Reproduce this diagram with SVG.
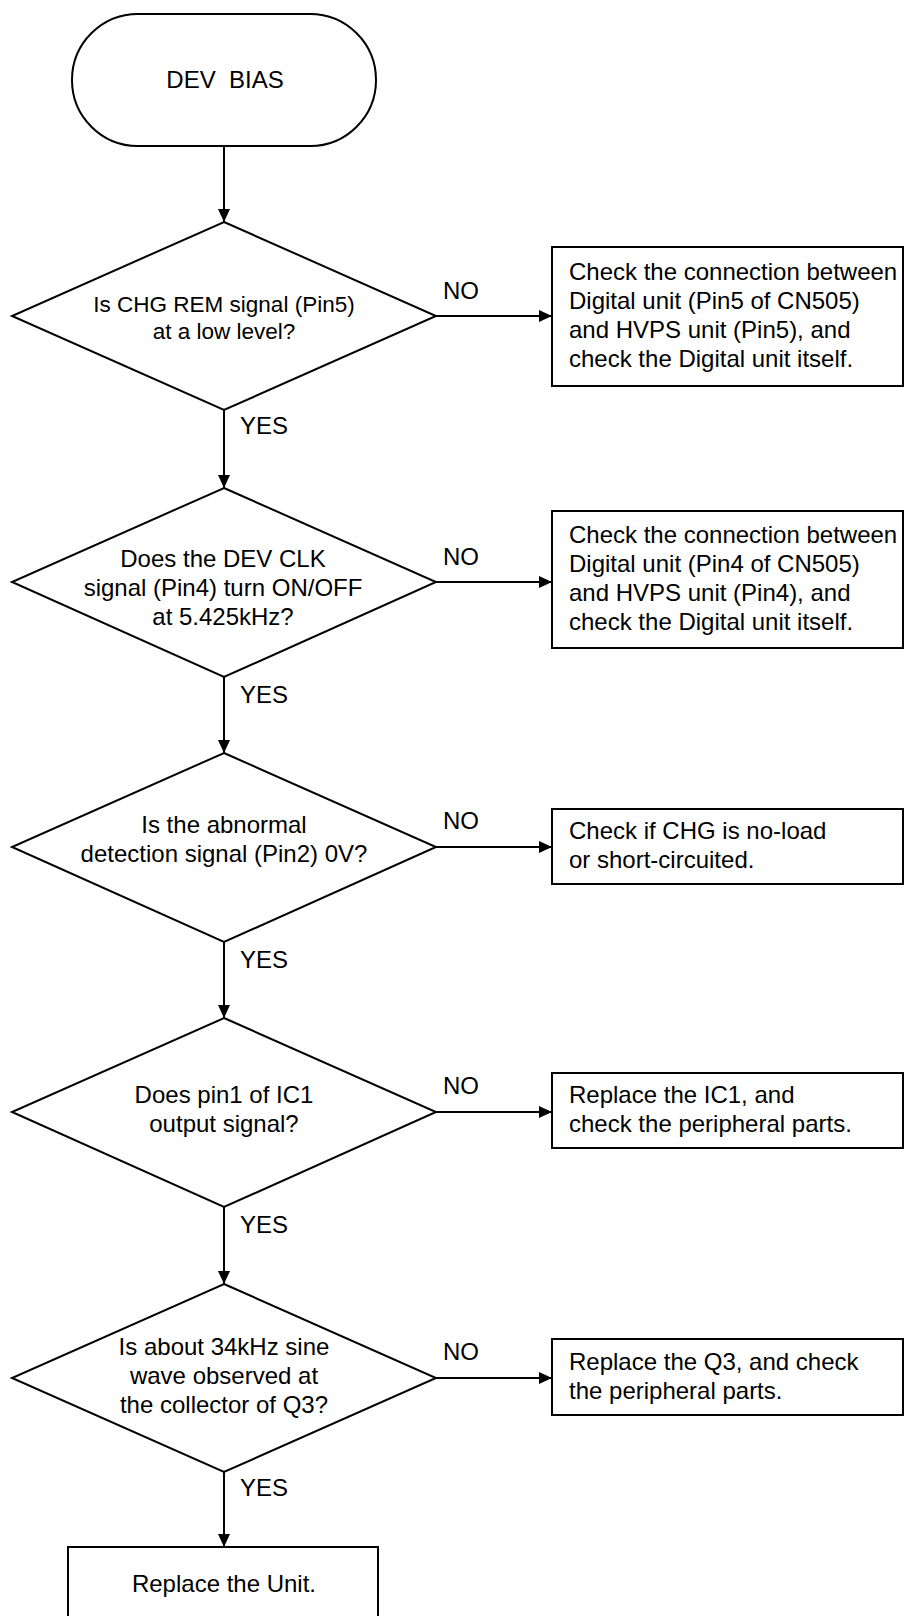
<svg xmlns="http://www.w3.org/2000/svg" width="904" height="1616" viewBox="0 0 904 1616">
<style>
.s{fill:#fff;stroke:#000;stroke-width:2}
.c{fill:none;stroke:#000;stroke-width:2}
text{font-family:"Liberation Sans",Arial,Helvetica,sans-serif;font-size:24px;fill:#000}
.m{text-anchor:middle}
.d1{font-size:22.5px}
</style>
<defs>
<marker id="ah" markerUnits="userSpaceOnUse" markerWidth="14" markerHeight="12" refX="13" refY="6" orient="auto">
<path d="M0,0 L13,6 L0,12 Z" fill="#000"/>
</marker>
</defs>
<rect width="904" height="1616" fill="#fff"/>
<g id="connectors">
<line class="c" x1="224" y1="146" x2="224" y2="222" marker-end="url(#ah)"/>
<line class="c" x1="224" y1="410" x2="224" y2="488" marker-end="url(#ah)"/>
<line class="c" x1="224" y1="677" x2="224" y2="753" marker-end="url(#ah)"/>
<line class="c" x1="224" y1="942" x2="224" y2="1018" marker-end="url(#ah)"/>
<line class="c" x1="224" y1="1207" x2="224" y2="1284" marker-end="url(#ah)"/>
<line class="c" x1="224" y1="1472" x2="224" y2="1547" marker-end="url(#ah)"/>
<line class="c" x1="436" y1="316" x2="552" y2="316" marker-end="url(#ah)"/>
<line class="c" x1="436" y1="582" x2="552" y2="582" marker-end="url(#ah)"/>
<line class="c" x1="436" y1="847" x2="552" y2="847" marker-end="url(#ah)"/>
<line class="c" x1="436" y1="1112" x2="552" y2="1112" marker-end="url(#ah)"/>
<line class="c" x1="436" y1="1378" x2="552" y2="1378" marker-end="url(#ah)"/>
<text x="443" y="299">NO</text>
<text x="443" y="565">NO</text>
<text x="443" y="829">NO</text>
<text x="443" y="1094">NO</text>
<text x="443" y="1360">NO</text>
<text x="240" y="434">YES</text>
<text x="240" y="703">YES</text>
<text x="240" y="968">YES</text>
<text x="240" y="1233">YES</text>
<text x="240" y="1496">YES</text>
</g>
<g id="start">
<rect class="s" x="72" y="14" width="304" height="132" rx="66" ry="66"/>
<text class="m" x="225" y="88" xml:space="preserve">DEV  BIAS</text>
</g>
<g id="q1">
<polygon class="s" points="224,222 436,316 224,410 12,316"/>
<text class="m d1" x="224" y="312">Is CHG REM signal (Pin5)</text>
<text class="m d1" x="224" y="339">at a low level?</text>
</g>
<g id="a1">
<rect class="s" x="552" y="247" width="351" height="139"/>
<text x="569" y="280">Check the connection between</text>
<text x="569" y="309">Digital unit (Pin5 of CN505)</text>
<text x="569" y="338">and HVPS unit (Pin5), and</text>
<text x="569" y="367">check the Digital unit itself.</text>
</g>
<g id="q2">
<polygon class="s" points="224,488 436,582 224,677 12,582"/>
<text class="m" x="223" y="567">Does the DEV CLK</text>
<text class="m" x="223" y="596">signal (Pin4) turn ON/OFF</text>
<text class="m" x="223" y="625">at 5.425kHz?</text>
</g>
<g id="a2">
<rect class="s" x="552" y="511" width="351" height="137"/>
<text x="569" y="543">Check the connection between</text>
<text x="569" y="572">Digital unit (Pin4 of CN505)</text>
<text x="569" y="601">and HVPS unit (Pin4), and</text>
<text x="569" y="630">check the Digital unit itself.</text>
</g>
<g id="q3">
<polygon class="s" points="224,753 436,847 224,942 12,847"/>
<text class="m" x="224" y="833">Is the abnormal</text>
<text class="m" x="224" y="862">detection signal (Pin2) 0V?</text>
</g>
<g id="a3">
<rect class="s" x="552" y="809" width="351" height="75"/>
<text x="569" y="839">Check if CHG is no-load</text>
<text x="569" y="868">or short-circuited.</text>
</g>
<g id="q4">
<polygon class="s" points="224,1018 436,1112 224,1207 12,1112"/>
<text class="m" x="224" y="1103">Does pin1 of IC1</text>
<text class="m" x="224" y="1132">output signal?</text>
</g>
<g id="a4">
<rect class="s" x="552" y="1073" width="351" height="75"/>
<text x="569" y="1103">Replace the IC1, and</text>
<text x="569" y="1132">check the peripheral parts.</text>
</g>
<g id="q5">
<polygon class="s" points="224,1284 436,1378 224,1472 12,1378"/>
<text class="m" x="224" y="1355">Is about 34kHz sine</text>
<text class="m" x="224" y="1384">wave observed at</text>
<text class="m" x="224" y="1413">the collector of Q3?</text>
</g>
<g id="a5">
<rect class="s" x="552" y="1339" width="351" height="76"/>
<text x="569" y="1370">Replace the Q3, and check</text>
<text x="569" y="1399">the peripheral parts.</text>
</g>
<g id="end">
<rect class="s" x="68" y="1547" width="310" height="90"/>
<text class="m" x="224" y="1592">Replace the Unit.</text>
</g>
</svg>
